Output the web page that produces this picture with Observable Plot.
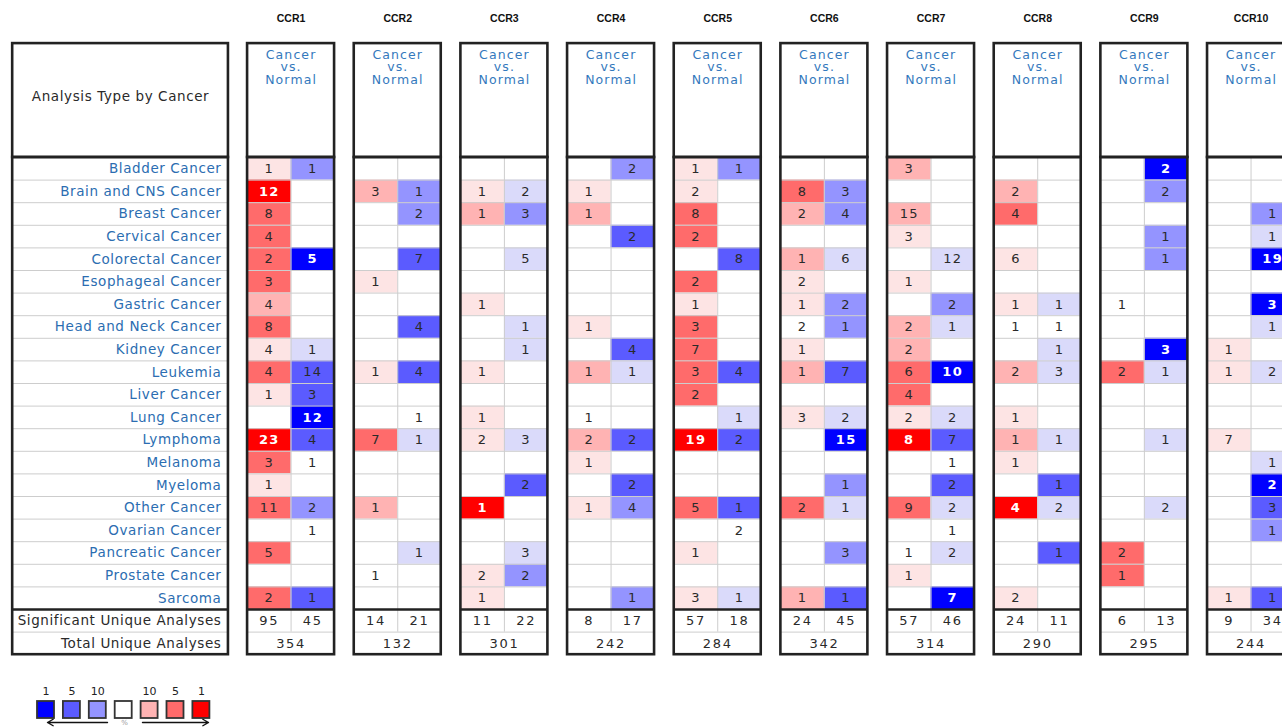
<!DOCTYPE html>
<html>
<head>
<meta charset="utf-8">
<script src="https://cdn.jsdelivr.net/npm/d3@7"></script>
<script src="https://cdn.jsdelivr.net/npm/@observablehq/plot@0.6"></script>
<style>
  html, body { margin: 0; padding: 0; background: #fff; overflow: hidden; }
  #chart svg { display: block; overflow: hidden !important; }
  [aria-description="cell-count"], [aria-description="cell-count-strong"] { letter-spacing: 1.4px; }
  [aria-description="summary-count"] { letter-spacing: 1.7px; }
  [aria-description="cancer-label"], [aria-description="row-title"] { letter-spacing: 0.6px; }
  [aria-description="panel-header"] { letter-spacing: 1.1px; }
</style>
</head>
<body>
<div id="chart"></div>
<script>
const _ = null;

// Rows: cancer types
const cancers = [
  "Bladder Cancer", "Brain and CNS Cancer", "Breast Cancer", "Cervical Cancer",
  "Colorectal Cancer", "Esophageal Cancer", "Gastric Cancer", "Head and Neck Cancer",
  "Kidney Cancer", "Leukemia", "Liver Cancer", "Lung Cancer", "Lymphoma", "Melanoma",
  "Myeloma", "Other Cancer", "Ovarian Cancer", "Pancreatic Cancer", "Prostate Cancer", "Sarcoma"
];
const genes = ["CCR1", "CCR2", "CCR3", "CCR4", "CCR5", "CCR6", "CCR7", "CCR8", "CCR9", "CCR10"];

// Number of analyses per cancer type (up = over-expression, down = under-expression)
// and the best gene-rank class reached: 1, 5, 10 (top %), 0 (significant, lower rank), null (unshaded)
const ccr1Up       = [1, 12, 8, 4, 2, 3, 4, 8, 4, 4, 1, _, 23, 3, 1, 11, _, 5, _, 2];
const ccr1UpRank   = [0, 1, 5, 5, 5, 5, 10, 5, 0, 5, 0, _, 1, 5, 0, 5, _, 5, _, 5];
const ccr1Down     = [1, _, _, _, 5, _, _, _, 1, 14, 3, 12, 4, 1, _, 2, 1, _, _, 1];
const ccr1DownRank = [10, _, _, _, 1, _, _, _, 0, 5, 5, 1, 5, _, _, 10, _, _, _, 5];

const ccr2Up       = [_, 3, _, _, _, 1, _, _, _, 1, _, _, 7, _, _, 1, _, _, 1, _];
const ccr2UpRank   = [_, 10, _, _, _, 0, _, _, _, 0, _, _, 5, _, _, 10, _, _, _, _];
const ccr2Down     = [_, 1, 2, _, 7, _, _, 4, _, 4, _, 1, 1, _, _, _, _, 1, _, _];
const ccr2DownRank = [_, 10, 10, _, 5, _, _, 5, _, 5, _, _, 0, _, _, _, _, 0, _, _];

const ccr3Up       = [_, 1, 1, _, _, _, 1, _, _, 1, _, 1, 2, _, _, 1, _, _, 2, 1];
const ccr3UpRank   = [_, 0, 10, _, _, _, 0, _, _, 0, _, 0, 0, _, _, 1, _, _, 0, 0];
const ccr3Down     = [_, 2, 3, _, 5, _, _, 1, 1, _, _, _, 3, _, 2, _, _, 3, 2, _];
const ccr3DownRank = [_, 0, 10, _, 0, _, _, 0, 0, _, _, _, 0, _, 5, _, _, 0, 10, _];

const ccr4Up       = [_, 1, 1, _, _, _, _, 1, _, 1, _, 1, 2, 1, _, 1, _, _, _, _];
const ccr4UpRank   = [_, 0, 10, _, _, _, _, 0, _, 10, _, _, 10, 0, _, 0, _, _, _, _];
const ccr4Down     = [2, _, _, 2, _, _, _, _, 4, 1, _, _, 2, _, 2, 4, _, _, _, 1];
const ccr4DownRank = [10, _, _, 5, _, _, _, _, 5, 0, _, _, 5, _, 5, 10, _, _, _, 10];

const ccr5Up       = [1, 2, 8, 2, _, 2, 1, 3, 7, 3, 2, _, 19, _, _, 5, _, 1, _, 3];
const ccr5UpRank   = [0, 0, 5, 5, _, 5, 0, 5, 5, 5, 5, _, 1, _, _, 5, _, 0, _, 0];
const ccr5Down     = [1, _, _, _, 8, _, _, _, _, 4, _, 1, 2, _, _, 1, 2, _, _, 1];
const ccr5DownRank = [10, _, _, _, 5, _, _, _, _, 5, _, 0, 5, _, _, 5, _, _, _, 0];

const ccr6Up       = [_, 8, 2, _, 1, 2, 1, 2, 1, 1, _, 3, _, _, _, 2, _, _, _, 1];
const ccr6UpRank   = [_, 5, 10, _, 10, 0, 0, _, 0, 10, _, 0, _, _, _, 5, _, _, _, 10];
const ccr6Down     = [_, 3, 4, _, 6, _, 2, 1, _, 7, _, 2, 15, _, 1, 1, _, 3, _, 1];
const ccr6DownRank = [_, 10, 10, _, 0, _, 10, 10, _, 5, _, 0, 1, _, 10, 0, _, 10, _, 5];

const ccr7Up       = [3, _, 15, 3, _, 1, _, 2, 2, 6, 4, 2, 8, _, _, 9, _, 1, 1, _];
const ccr7UpRank   = [10, _, 10, 0, _, 0, _, 10, 10, 5, 5, 0, 1, _, _, 5, _, _, 0, _];
const ccr7Down     = [_, _, _, _, 12, _, 2, 1, _, 10, _, 2, 7, 1, 2, 2, 1, 2, _, 7];
const ccr7DownRank = [_, _, _, _, 0, _, 10, 0, _, 1, _, 0, 5, _, 5, 0, _, 0, _, 1];

const ccr8Up       = [_, 2, 4, _, 6, _, 1, 1, _, 2, _, 1, 1, 1, _, 4, _, _, _, 2];
const ccr8UpRank   = [_, 10, 5, _, 0, _, 0, _, _, 10, _, 0, 10, 0, _, 1, _, _, _, 0];
const ccr8Down     = [_, _, _, _, _, _, 1, 1, 1, 3, _, _, 1, _, 1, 2, _, 1, _, _];
const ccr8DownRank = [_, _, _, _, _, _, 0, _, 0, 0, _, _, 0, _, 5, 0, _, 5, _, _];

const ccr9Up       = [_, _, _, _, _, _, 1, _, _, 2, _, _, _, _, _, _, _, 2, 1, _];
const ccr9UpRank   = [_, _, _, _, _, _, _, _, _, 5, _, _, _, _, _, _, _, 5, 5, _];
const ccr9Down     = [2, 2, _, 1, 1, _, _, _, 3, 1, _, _, 1, _, _, 2, _, _, _, _];
const ccr9DownRank = [1, 10, _, 10, 10, _, _, _, 1, 0, _, _, 0, _, _, 0, _, _, _, _];

const ccr10Up       = [_, _, _, _, _, _, _, _, 1, 1, _, _, 7, _, _, _, _, _, _, 1];
const ccr10UpRank   = [_, _, _, _, _, _, _, _, 0, 0, _, _, 0, _, _, _, _, _, _, 0];
const ccr10Down     = [_, _, 1, 1, 19, _, 3, 1, _, 2, _, _, _, 1, 2, 3, 1, _, _, 1];
const ccr10DownRank = [_, _, 10, 0, 1, _, 1, 0, _, 0, _, _, _, 0, 1, 5, 10, _, _, 5];

// Significant unique analyses (up, down) and total unique analyses per gene
const significantUp   = [95, 14, 11, 8, 57, 24, 57, 24, 6, 9];
const significantDown = [45, 21, 22, 17, 18, 45, 46, 11, 13, 34];
const totalAnalyses   = [354, 132, 301, 242, 284, 342, 314, 290, 295, 244];

// Legend: gene rank thresholds (%)
const legendLabels = ["1", "5", "10", "", "10", "5", "1"];
const legendKeys = ["down-1", "down-5", "down-10", "blank", "up-10", "up-5", "up-1"];

const upCounts = [ccr1Up, ccr2Up, ccr3Up, ccr4Up, ccr5Up, ccr6Up, ccr7Up, ccr8Up, ccr9Up, ccr10Up];
const upRanks = [ccr1UpRank, ccr2UpRank, ccr3UpRank, ccr4UpRank, ccr5UpRank, ccr6UpRank, ccr7UpRank, ccr8UpRank, ccr9UpRank, ccr10UpRank];
const downCounts = [ccr1Down, ccr2Down, ccr3Down, ccr4Down, ccr5Down, ccr6Down, ccr7Down, ccr8Down, ccr9Down, ccr10Down];
const downRanks = [ccr1DownRank, ccr2DownRank, ccr3DownRank, ccr4DownRank, ccr5DownRank, ccr6DownRank, ccr7DownRank, ccr8DownRank, ccr9DownRank, ccr10DownRank];

// ---- layout: x in column units (one cell wide), y in row units (one cell tall)
const W = 1282, H = 727;
const colPx = 43.5, rowPx = 22.6, tableTopPx = 157;
const labelX1 = 0.28, labelX2 = 5.24;        // label column
const panelX0 = 5.68, period = 2.452;          // gene panels, two columns each
const headerTop = -5.04, titleY = -6.15;
const nRows = cancers.length;                  // 20 cancer rows, then 2 summary rows
const panelX = g => panelX0 + g * period;
const px = v => v / colPx;                     // pixel helpers for the legend block
const py = v => (v - tableTopPx) / rowPx;

const cells = [];
genes.forEach((gene, g) => {
  [["up", upCounts[g], upRanks[g]], ["down", downCounts[g], downRanks[g]]].forEach(([dir, counts, ranks], d) => {
    counts.forEach((count, r) => {
      if (count == null) return;
      const rank = ranks[r];
      cells.push({gene, g, d, r, count, rank, key: rank == null ? null : `${dir}-${rank}`});
    });
  });
});

const summary = [];
genes.forEach((gene, g) => {
  summary.push({g, d: 0, value: significantUp[g]});
  summary.push({g, d: 1, value: significantDown[g]});
});

// boxes: label column + each gene panel; header box and body box
const boxes = [{x1: labelX1, x2: labelX2}, ...genes.map((_, g) => ({x1: panelX(g), x2: panelX(g) + 2}))];
const thinLines = [];
boxes.forEach(b => {
  for (let r = 1; r < nRows; r++) thinLines.push({x1: b.x1, x2: b.x2, y: r});
  thinLines.push({x1: b.x1, x2: b.x2, y: nRows + 1});
});

const colorDomain = ["up-1", "up-5", "up-10", "up-0", "down-1", "down-5", "down-10", "down-0", "blank"];
const colorRange  = ["#ff0000", "#ff6b6b", "#ffb3b3", "#fde4e4", "#0000ff", "#5b5bff", "#9494ff", "#dadafa", "#ffffff"];

const legend = legendKeys.map((key, i) => ({key, label: legendLabels[i], i}));
const legLeft = i => px(37 + i * 25.9);

const border = "#222";
const numFont = "DejaVu Sans, Verdana, sans-serif";

const chart = Plot.plot({
  width: W, height: H,
  marginTop: 0, marginRight: 0, marginBottom: 0, marginLeft: 0,
  style: {fontFamily: numFont, background: "#fff"},
  x: {type: "linear", domain: [0, W / colPx], range: [0, W], axis: null},
  y: {type: "linear", domain: [py(0), py(H)], range: [0, H], axis: null},
  color: {type: "ordinal", domain: colorDomain, range: colorRange},
  marks: [
    // shaded cells
    Plot.rect(cells.filter(c => c.key), {
      x1: c => panelX(c.g) + c.d, x2: c => panelX(c.g) + c.d + 1,
      y1: "r", y2: c => c.r + 1, fill: "key"
    }),
    // inner grid
    Plot.ruleY(thinLines, {x1: "x1", x2: "x2", y: "y", stroke: "#cdcdcd", strokeWidth: 1}),
    Plot.ruleX(genes, {x: (_, g) => panelX(g) + 1, y1: 0, y2: nRows + 1, stroke: "#cdcdcd", strokeWidth: 1}),
    // heavy borders
    Plot.rect(boxes, {x1: "x1", x2: "x2", y1: headerTop, y2: 0, fill: "none", stroke: border, strokeWidth: 2.6}),
    Plot.rect(boxes, {x1: "x1", x2: "x2", y1: 0, y2: nRows + 2, fill: "none", stroke: border, strokeWidth: 2.6}),
    Plot.ruleY(boxes, {x1: "x1", x2: "x2", y: nRows, stroke: border, strokeWidth: 2.6}),
    // cell counts
    Plot.text(cells.filter(c => c.rank !== 1), {
      x: c => panelX(c.g) + c.d + 0.5, y: c => c.r + 0.5, text: "count",
      fill: "#2a2a2a", fontSize: 13, ariaDescription: "cell-count"
    }),
    Plot.text(cells.filter(c => c.rank === 1), {
      x: c => panelX(c.g) + c.d + 0.5, y: c => c.r + 0.5, text: "count",
      fill: "#ffffff", fontSize: 13, fontWeight: "bold", ariaDescription: "cell-count-strong"
    }),
    // summary rows
    Plot.text(summary, {
      x: s => panelX(s.g) + s.d + 0.5, y: nRows + 0.5, text: "value",
      fill: "#2a2a2a", fontSize: 13, ariaDescription: "summary-count"
    }),
    Plot.text(totalAnalyses, {
      x: (_, g) => panelX(g) + 1, y: nRows + 1.5, text: d => d,
      fill: "#2a2a2a", fontSize: 13, ariaDescription: "summary-count"
    }),
    // row labels
    Plot.text(cancers, {
      x: labelX2 - 0.16, y: (_, i) => i + 0.5, text: d => d, textAnchor: "end",
      fill: "#2b6db1", fontSize: 13.5, ariaDescription: "cancer-label"
    }),
    Plot.text(["Significant Unique Analyses", "Total Unique Analyses"], {
      x: labelX2 - 0.16, y: (_, i) => nRows + i + 0.5, text: d => d, textAnchor: "end",
      fill: "#2a2a2a", fontSize: 13.5, ariaDescription: "row-title"
    }),
    Plot.text(["Analysis Type by Cancer"], {
      x: (labelX1 + labelX2) / 2, y: headerTop * 0.53, text: d => d,
      fill: "#2a2a2a", fontSize: 13.5, ariaDescription: "row-title"
    }),
    // panel headers
    Plot.text(genes, {
      x: (_, g) => panelX(g) + 1, y: headerTop + 0.27, text: () => "Cancer\nvs.\nNormal",
      lineAnchor: "top", lineHeight: 1.0, fill: "#3479bd", fontSize: 12.5, ariaDescription: "panel-header"
    }),
    Plot.text(genes, {
      x: (_, g) => panelX(g) + 1, y: titleY, text: d => d,
      fontFamily: "Liberation Sans, Arial, sans-serif", fontWeight: "bold", fontSize: 10.5, fill: "#111"
    }),
    // legend
    Plot.rect(legend, {
      x1: d => legLeft(d.i), x2: d => legLeft(d.i) + px(17),
      y1: py(701), y2: py(718), fill: "key", stroke: "#333", strokeWidth: 1.8
    }),
    Plot.text(legend, {
      x: d => legLeft(d.i) + px(8.5), y: py(691), text: "label", fontSize: 11, fill: "#222"
    }),
    Plot.arrow([{x1: px(107), x2: px(47)}, {x1: px(142), x2: px(208)}], {
      x1: "x1", x2: "x2", y1: py(722), y2: py(722), stroke: "#111", strokeWidth: 1.4, headLength: 7
    }),
    Plot.text(["%"], {x: px(124), y: py(722), text: d => d, fontSize: 7, fill: "#999"})
  ]
});

document.getElementById("chart").append(chart);
</script>
</body>
</html>
